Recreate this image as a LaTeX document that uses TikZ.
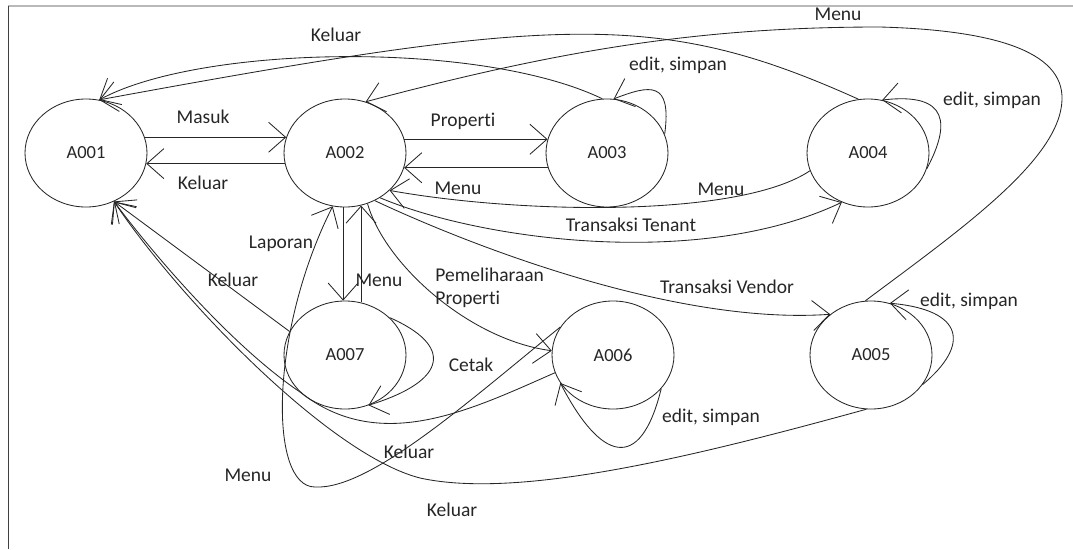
\documentclass[tikz,border=0pt]{standalone}
\usepackage{fontspec}
\setmainfont{Carlito}[Ligatures=NoCommon]
\usetikzlibrary{positioning,shapes,arrows.meta}

\begin{document}
\begin{tikzpicture}[x=1pt, y=-1pt, line width=0.85pt, color=black!85,
	main/.style = {draw, ellipse, minimum width=122pt, minimum height=108pt, inner sep=0pt, font=\fontsize{18.5}{22}\selectfont},
	lbl/.style = {inner sep=0pt, font=\fontsize{19.5}{23}\selectfont},
	arr/.style = {-{Straight Barb[length=17pt,width=30pt]}}]
	\useasboundingbox (0,0) rectangle (1073,549);
	\draw[gray!55, line width=1.5pt] (8,6) -- (1073,6);
	\draw[black!75, line width=1pt] (8,6) -- (8,549);

	\node[main] (1) at (86,153) {A001};
	\node[main] (2) [right of=1, node distance=259pt] {A002};
	\node[main] (3) [right of=2, node distance=262pt] {A003};
	\node[main] (4) [right of=3, node distance=261pt] {A004};
	\node[main] (7) [below of=2, node distance=202pt] {A007};
	\node[main] (6) [right of=7, node distance=268pt] {A006};
	\node[main] (5) [right of=6, node distance=258pt] {A005};

	\draw[arr] (1.15) -- (2.165);
	\draw[arr] (2.-170) -- (1.-10);
	\draw[arr] (2.13) -- (3.167);
	\draw[arr] (3.-166) -- (2.-14);
	\draw[arr] (2.-92) -- (7.92);
	\draw[arr] (7.73) -- (2.-73);
	\draw[arr] (4.197) .. controls (740,218) and (520,214) .. (2.-40);
	\draw[arr] (2.-52) .. controls (480,240) and (700,270) .. (4.-118);
	\draw[arr] (2.-58) .. controls (480,250) and (680,325) .. (5.135);
	\draw[arr] (2.-66) .. controls (385,265) and (470,340) .. (6.176);
	\draw[arr] (3.95) .. controls (480,40) and (200,45) .. (1.76);
	\draw[arr] (4.100) .. controls (660,10) and (560,15) .. (1.76);
	\draw[arr] (5.96) .. controls (960,230) and (1060,160) .. (1062,100)
		.. controls (1064,50) and (990,30) .. (880,27)
		.. controls (700,27) and (560,50) .. (2.68);
	\draw[arr] (6.152) .. controls (470,400) and (370,490) .. (315,487)
		.. controls (268,487) and (270,330) .. (2.-103);
	\draw[arr] (7.157) -- (1.-60);
	\draw[arr] (6.-163) .. controls (470,410) and (380,455) .. (300,392)
		.. controls (230,345) and (150,250) .. (1.-60);
	\draw[arr] (5.-95) .. controls (700,455) and (520,500) .. (420,478)
		.. controls (330,455) and (180,300) .. (1.-60);
	% loops
	\draw[arr] (3.18) .. controls (672,80) and (650,85) .. (3.83);
	\draw[arr] (4.-15) .. controls (950,125) and (950,92) .. (4.75);
	\draw[arr] (5.-30) .. controls (970,345) and (965,310) .. (5.70);
	\draw[arr] (6.-35) .. controls (640,475) and (600,460) .. (6.-152);
	\draw[arr] (7.40) .. controls (452,345) and (450,380) .. (7.-65);

	\node[lbl] (t1) at (336,35) {Keluar};
	\node[lbl] (t2) at (838,14) {Menu};
	\node[lbl] (t3) at (678,65) {edit, simpan};
	\node[lbl] (t4) at (992,100) {edit, simpan};
	\node[lbl] (t5) at (203,117) {Masuk};
	\node[lbl] (t6) at (203,183) {Keluar};
	\node[lbl] (t7) at (463,121) {Properti};
	\node[lbl] (t8) at (458,188) {Menu};
	\node[lbl] (t9) at (721,189) {Menu};
	\node[lbl] (t10) at (631,225) {Transaksi Tenant};
	\node[lbl] (t11) at (281,244) {Laporan};
	\node[lbl] (t12) at (233,280) {Keluar};
	\node[lbl] (t13) at (379,280) {Menu};
	\node[lbl, align=left, anchor=west] (t14) at (435,288) {Pemeliharaan\\Properti};
	\node[lbl] (t15) at (727,287) {Transaksi Vendor};
	\node[lbl] (t16) at (969,301) {edit, simpan};
	\node[lbl] (t17) at (471,365) {Cetak};
	\node[lbl] (t18) at (711,417) {edit, simpan};
	\node[lbl] (t19) at (409,452) {Keluar};
	\node[lbl] (t20) at (248,475) {Menu};
	\node[lbl] (t21) at (452,510) {Keluar};
\end{tikzpicture}
\end{document}
